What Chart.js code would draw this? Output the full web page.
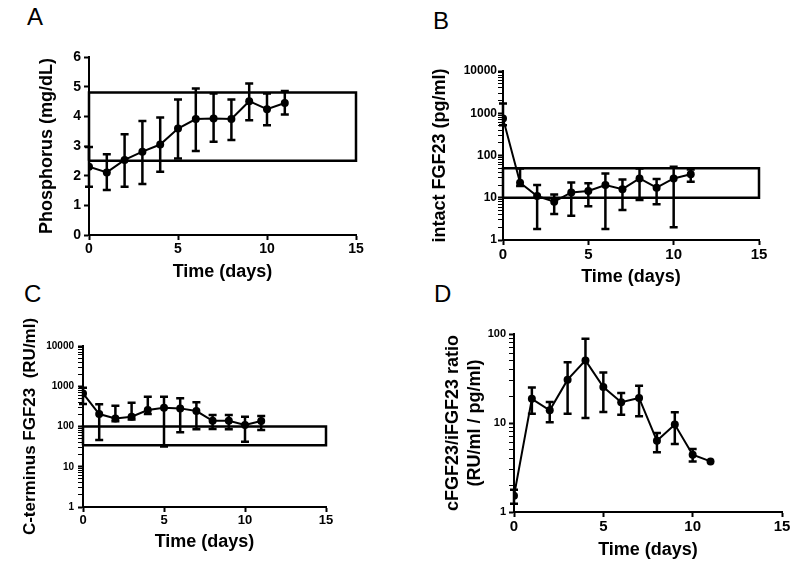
<!DOCTYPE html>
<html>
<head>
<meta charset="utf-8">
<script src="https://cdn.jsdelivr.net/npm/chart.js@4.4.1/dist/chart.umd.min.js"></script>
<style>
  body { margin: 0; background: #fff; width: 800px; height: 570px; position: relative; overflow: hidden;
         font-family: "Liberation Sans", Arial, sans-serif; }
  canvas { position: absolute; }
  .lbl { position: absolute; font-size: 24px; line-height: 1; color: #000; }
</style>
</head>
<body>
<div class="lbl" style="left:27px;top:5px">A</div>
<div class="lbl" style="left:433px;top:9px">B</div>
<div class="lbl" style="left:24px;top:282px">C</div>
<div class="lbl" style="left:434px;top:282px">D</div>
<canvas id="chartA"></canvas>
<canvas id="chartB"></canvas>
<canvas id="chartC"></canvas>
<canvas id="chartD"></canvas>
<script>
//// data
const days = [0, 1, 2, 3, 4, 5, 6, 7, 8, 9, 10, 11];
const xTicks = [0, 5, 10, 15];

// A - phosphorus
const phosMean = [2.30, 2.11, 2.53, 2.81, 3.05, 3.59, 3.91, 3.93, 3.91, 4.51, 4.24, 4.45];
const phosLow  = [1.63, 1.52, 1.63, 1.72, 2.13, 2.58, 2.83, 3.14, 3.20, 3.87, 3.70, 4.06];
const phosHigh = [2.97, 2.72, 3.40, 3.84, 3.96, 4.57, 4.94, 4.77, 4.57, 5.11, 4.77, 4.85];
const phosRange = [2.5, 4.8];

// B - intact FGF23
const ifgfMean = [754, 22.6, 11, 8.05, 13.4, 14.4, 20, 16, 28.7, 17.3, 28.7, 36];
const ifgfLow  = [520, 19, 1.82, 4.1, 3.76, 6.3, 1.82, 5.1, 8.8, 7, 2.0, 24];
const ifgfHigh = [1700, 49.5, 20, 12, 23, 21.9, 37.7, 27.2, 49.5, 27.6, 54, 46.8];
const ifgfRange = [10, 50];

// C - C-terminus FGF23
const cfgfMean = [664, 204, 159, 175, 257, 292, 282, 242, 139, 139, 109, 137];
const cfgfLow  = [360, 46, 135, 150, 205, 32, 72, 85, 87, 85, 42, 82];
const cfgfHigh = [914, 355, 327, 389, 550, 550, 500, 398, 193, 193, 174, 182];
const cfgfRange = [34, 100];

// D - ratio
const ratioMean = [1.52, 18.7, 13.9, 30.7, 50.5, 25.4, 17.1, 19.1, 6.3, 9.6, 4.4, 3.7];
const ratioLow  = [1.24, 12.7, 10.2, 12.7, 11.4, 13.3, 12.4, 11.9, 4.7, 5.8, 3.7, null];
const ratioHigh = [1.78, 25.1, 17.2, 48, 88.5, 37, 21.7, 26.2, 7.7, 13.2, 5.1, null];

const logLabelsB = [1, 10, 100, 1000, 10000];
const logLabelsD = [1, 10, 100];

const FONT = '"Liberation Sans", Arial, sans-serif';

// draws the SEM bars on top of each dataset that carries errLow/errHigh
const errorBars = {
    id: 'errorBars',
    afterDatasetsDraw(chart) {
        const ctx = chart.ctx;
        const xs = chart.scales.x, ys = chart.scales.y;
        chart.data.datasets.forEach(ds => {
            if (!ds.errLow) return;
            ctx.save();
            ctx.strokeStyle = '#000';
            ctx.lineWidth = 2.5;
            ds.data.forEach((p, j) => {
                const lo = ds.errLow[j], hi = ds.errHigh[j];
                if (lo == null) return;
                const x = xs.getPixelForValue(p.x);
                const yl = ys.getPixelForValue(lo);
                const yh = ys.getPixelForValue(hi);
                ctx.beginPath();
                ctx.moveTo(x, yl); ctx.lineTo(x, yh);
                ctx.moveTo(x - 4, yh); ctx.lineTo(x + 4, yh);
                ctx.moveTo(x - 4, yl); ctx.lineTo(x + 4, yl);
                ctx.stroke();
            });
            ctx.restore();
        });
    }
};

function seriesDataset(mean, low, high) {
    return {
        data: days.map((d, i) => ({ x: d, y: mean[i] })),
        errLow: low, errHigh: high,
        showLine: true, borderColor: '#000', borderWidth: 2,
        pointRadius: 4, pointBackgroundColor: '#000', pointBorderColor: '#000', pointBorderWidth: 0
    };
}

function rangeDataset(range) {
    const x0 = xTicks[0], x1 = xTicks[xTicks.length - 1];
    return {
        data: [{ x: x0, y: range[0] }, { x: x1, y: range[0] }, { x: x1, y: range[1] },
               { x: x0, y: range[1] }, { x: x0, y: range[0] }],
        showLine: true, borderColor: '#000', borderWidth: 2.5, pointRadius: 0, clip: false, fill: false
    };
}

function minorTicks(labels) {
    const out = [];
    labels.forEach((d, i) => {
        if (i === labels.length - 1) { out.push(d); return; }
        for (let k = 1; k <= 9; k++) out.push(d * k);
    });
    return out;
}

function makePanel(id, box, plot, o) {
    const canvas = document.getElementById(id);
    canvas.width = box.w; canvas.height = box.h;
    canvas.style.left = box.x + 'px'; canvas.style.top = box.y + 'px';
    const tlh = o.titleSize * 1.2;

    const y = {
        type: o.yType, min: o.yMin, max: o.yMax,
        ticks: {
            color: '#000', autoSkip: false, padding: o.yPad,
            font: { family: FONT, size: o.yFont, weight: 'bold' }
        },
        grid: {
            drawOnChartArea: false, drawTicks: true, tickLength: 5, tickColor: '#000',
            tickWidth: c => (o.yLabels && c.tick && !o.yLabels.includes(c.tick.value)) ? 1 : 2
        },
        border: { color: '#000', width: 2 },
        title: {
            display: true, text: o.yTitle, color: '#000',
            font: { family: FONT, size: o.titleSize, weight: 'bold' },
            padding: { top: o.yTitleX - box.x - tlh / 2, bottom: 0 }
        },
        afterFit: s => { s.width = plot.l - box.x; }
    };
    if (o.yType === 'logarithmic') {
        y.afterBuildTicks = s => { s.ticks = minorTicks(o.yLabels).map(v => ({ value: v })); };
        y.ticks.callback = v => o.yLabels.includes(v) ? String(v) : '';
    } else {
        y.ticks.stepSize = 1;
    }

    return new Chart(canvas, {
        type: 'scatter',
        data: { datasets: o.datasets },
        options: {
            responsive: false, animation: false, devicePixelRatio: 1,
            layout: { padding: { left: 0, top: plot.t - box.y, right: box.x + box.w - plot.r, bottom: 0 } },
            plugins: { legend: { display: false }, tooltip: { enabled: false } },
            scales: {
                x: {
                    type: 'linear', min: 0, max: 15,
                    afterBuildTicks: s => { s.ticks = xTicks.map(v => ({ value: v })); },
                    ticks: { color: '#000', padding: 1, maxRotation: 0,
                             font: { family: FONT, size: o.xFont, weight: 'bold' } },
                    grid: { drawOnChartArea: false, drawTicks: true, tickLength: 5, tickColor: '#000', tickWidth: 2 },
                    border: { color: '#000', width: 2 },
                    title: {
                        display: true, text: 'Time (days)', color: '#000',
                        font: { family: FONT, size: 18, weight: 'bold' },
                        padding: { top: 0, bottom: box.y + box.h - o.xTitleY - 10.8 }
                    },
                    afterFit: s => { s.height = box.y + box.h - plot.b; }
                },
                y: y
            }
        },
        plugins: [errorBars]
    });
}

makePanel('chartA', { x: 0, y: 30, w: 400, h: 260 }, { l: 89, t: 57, r: 356, b: 235 }, {
    yType: 'linear', yMin: 0, yMax: 6, yFont: 14, xFont: 14, yPad: 3,
    yTitle: 'Phosphorus (mg/dL)', titleSize: 18, yTitleX: 47, xTitleY: 272,
    datasets: [rangeDataset(phosRange), seriesDataset(phosMean, phosLow, phosHigh)]
});

makePanel('chartB', { x: 400, y: 30, w: 400, h: 260 }, { l: 503, t: 71, r: 759, b: 240 }, {
    yType: 'logarithmic', yMin: 1, yMax: 10000, yLabels: logLabelsB, yFont: 12, xFont: 15, yPad: 1,
    yTitle: 'intact FGF23 (pg/ml)', titleSize: 18, yTitleX: 440, xTitleY: 277,
    datasets: [rangeDataset(ifgfRange), seriesDataset(ifgfMean, ifgfLow, ifgfHigh)]
});

makePanel('chartC', { x: 0, y: 300, w: 400, h: 270 }, { l: 83, t: 346, r: 326, b: 507 }, {
    yType: 'logarithmic', yMin: 1, yMax: 10000, yLabels: logLabelsB, yFont: 10, xFont: 13, yPad: 4,
    yTitle: 'C-terminus FGF23  (RU/ml)', titleSize: 17, yTitleX: 30, xTitleY: 542,
    datasets: [rangeDataset(cfgfRange), seriesDataset(cfgfMean, cfgfLow, cfgfHigh)]
});

makePanel('chartD', { x: 400, y: 300, w: 400, h: 270 }, { l: 514, t: 334, r: 782, b: 512 }, {
    yType: 'logarithmic', yMin: 1, yMax: 100, yLabels: logLabelsD, yFont: 11, xFont: 15, yPad: 3,
    yTitle: ['cFGF23/iFGF23 ratio', '(RU/ml / pg/ml)'], titleSize: 18, yTitleX: 453, xTitleY: 550,
    datasets: [seriesDataset(ratioMean, ratioLow, ratioHigh)]
});
</script>
</body>
</html>
